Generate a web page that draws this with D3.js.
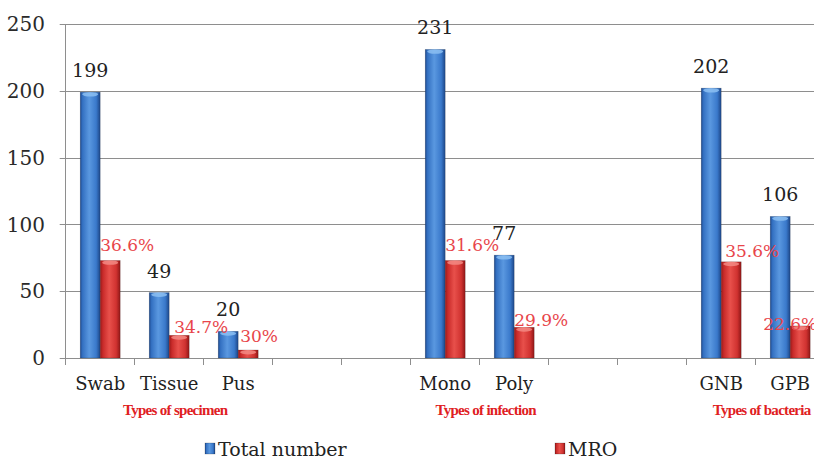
<!DOCTYPE html>
<html>
<head>
<meta charset="utf-8">
<script src="https://cdn.jsdelivr.net/npm/d3@7"></script>
<style>
  html, body { margin: 0; padding: 0; background: #fff; overflow: hidden; }
  svg { display: block; }
  text { font-family: "DejaVu Serif", serif; }
</style>
</head>
<body>
<svg id="chart" width="814" height="459"></svg>
<script>
// Specimens, infections and bacteria: total isolates vs multi-resistant organisms
const categories = ["Swab", "Tissue", "Pus", "", "", "Mono", "Poly", "", "", "GNB", "GPB"];
const totalNumber = [199, 49, 20, null, null, 231, 77, null, null, 202, 106];
const mroNumber = [73, 17, 6, null, null, 73, 23, null, null, 72, 24];
const mroPercent = ["36.6%", "34.7%", "30%", null, null, "31.6%", "29.9%", null, null, "35.6%", "22.6%"];
const yTicks = [0, 50, 100, 150, 200, 250];
const groupTitles = ["Types of specimen", "Types of infection", "Types of bacteria"];
const groupSpans = [[0, 3], [5, 7], [9, 11]];
const seriesNames = ["Total number", "MRO"];

// hand-placed nudges for the percentage labels [dx, dy]
const pctNudge = [[0, -9], [5, -2], [2, -8], null, null, [0, -9], [0, -1], null, null, [4, -5], [-27, 4]];

const svg = d3.select("#chart");
const W = 814;
const plot = { left: 65.7, right: 824.7, top: 24, bottom: 358 };

const x = d3.scaleBand().domain(d3.range(categories.length)).range([plot.left, plot.right]).padding(0);
const y = d3.scaleLinear().domain([0, 250]).range([plot.bottom, plot.top]);
const bw = x.bandwidth();
const barW = 20;

const defs = svg.append("defs");
function cyl(id, stops) {
  const g = defs.append("linearGradient").attr("id", id).attr("x1", "0").attr("x2", "1").attr("y1", "0").attr("y2", "0");
  stops.forEach(s => g.append("stop").attr("offset", s[0]).attr("stop-color", s[1]));
}
cyl("gBlue", [["0%", "#1f4c92"], ["12%", "#3471c2"], ["45%", "#5a98e0"], ["80%", "#3a79cb"], ["100%", "#1d4687"]]);
cyl("gRed", [["0%", "#9a1a1a"], ["14%", "#c92b2a"], ["45%", "#e8504b"], ["80%", "#d03230"], ["100%", "#8f1717"]]);

// gridlines
svg.append("g").selectAll("line").data(yTicks).join("line")
  .attr("x1", plot.left - 6).attr("x2", W)
  .attr("y1", d => Math.round(y(d)) + 0.5).attr("y2", d => Math.round(y(d)) + 0.5)
  .attr("stroke", "#8e8e8e").attr("stroke-width", 1);

// y axis line
svg.append("line").attr("x1", Math.round(plot.left) - 0.5).attr("x2", Math.round(plot.left) - 0.5)
  .attr("y1", plot.top).attr("y2", plot.bottom + 1).attr("stroke", "#8e8e8e");

// y tick labels
svg.append("g").selectAll("text").data(yTicks).join("text")
  .attr("x", 45).attr("y", d => y(d)).attr("dy", "0.36em")
  .attr("text-anchor", "end").attr("font-size", 20).attr("fill", "#2a2a2a")
  .text(d => d);

// x boundary ticks
svg.append("g").selectAll("line").data(d3.range(categories.length + 1)).join("line")
  .attr("x1", i => Math.round(plot.left + i * bw) - 0.5).attr("x2", i => Math.round(plot.left + i * bw) - 0.5)
  .attr("y1", plot.bottom).attr("y2", plot.bottom + 7)
  .attr("stroke", "#8e8e8e");

const idx = d3.range(categories.length).filter(i => totalNumber[i] != null);

// bars
function drawBars(values, grad, cap, offset) {
  const g = svg.append("g");
  idx.forEach(i => {
    const x0 = x(i) + bw / 2 + offset;
    const top = y(values[i]);
    g.append("rect").attr("x", x0).attr("y", top).attr("width", barW).attr("height", plot.bottom - top)
      .attr("fill", `url(#${grad})`).attr("stroke", "rgba(0,0,0,0.25)").attr("stroke-width", 0.6);
    g.append("ellipse").attr("cx", x0 + barW / 2).attr("cy", top + 2.2).attr("rx", barW / 2 - 2).attr("ry", 2.2)
      .attr("fill", cap).attr("opacity", 0.85);
  });
}
drawBars(totalNumber, "gBlue", "#8cc0f2", -barW);
drawBars(mroNumber, "gRed", "#f38a84", 0);

// value labels
svg.append("g").selectAll("text").data(idx).join("text")
  .attr("x", i => x(i) + bw / 2 - barW / 2)
  .attr("y", i => y(totalNumber[i]) - 15)
  .attr("text-anchor", "middle").attr("font-size", 19).attr("fill", "#222")
  .text(i => totalNumber[i]);

svg.append("g").selectAll("text").data(idx).join("text")
  .attr("x", i => x(i) + bw / 2 + pctNudge[i][0])
  .attr("y", i => y(mroNumber[i]) + pctNudge[i][1])
  .attr("text-anchor", "start").attr("font-size", 17).attr("fill", "#e8454a")
  .text(i => mroPercent[i]);

// category labels
svg.append("g").selectAll("text").data(d3.range(categories.length)).join("text")
  .attr("x", i => x(i) + bw / 2).attr("y", 390)
  .attr("text-anchor", "middle").attr("font-size", 18).attr("fill", "#222")
  .text(i => categories[i]);

// group titles
svg.append("g").selectAll("text").data(groupTitles).join("text")
  .attr("x", (d, k) => plot.left + (groupSpans[k][0] + groupSpans[k][1]) / 2 * bw + 6)
  .attr("y", 415)
  .attr("text-anchor", "middle")
  .style("font-family", "'Liberation Serif', serif")
  .attr("font-weight", "bold").attr("font-size", 15).attr("letter-spacing", -0.7)
  .attr("fill", "#e0201f")
  .text(d => d);

// legend
const legend = [
  { name: seriesNames[0], grad: "gBlue", x: 205 },
  { name: seriesNames[1], grad: "gRed", x: 555 }
];
const lg = svg.append("g");
legend.forEach(l => {
  lg.append("rect").attr("x", l.x).attr("y", 443).attr("width", 10).attr("height", 11)
    .attr("fill", `url(#${l.grad})`).attr("stroke", "rgba(0,0,0,0.3)").attr("stroke-width", 0.6);
  lg.append("text").attr("x", l.x + 13).attr("y", 456).attr("font-size", 19).attr("fill", "#222").text(l.name);
});
</script>
</body>
</html>
